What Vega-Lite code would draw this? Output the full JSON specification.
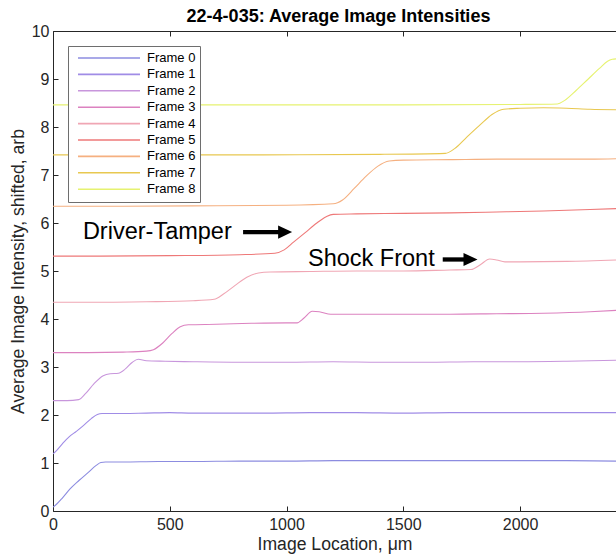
{
  "$schema": "https://vega.github.io/schema/vega-lite/v6.json",
  "width": 563,
  "height": 480,
  "autosize": "none",
  "padding": {"left": 53, "top": 31, "right": 0, "bottom": 43},
  "background": "white",
  "title": {"text": "22-4-035: Average Image Intensities", "font": "Liberation Sans", "fontSize": 18, "fontWeight": "bold", "color": "#000000", "anchor": "middle", "frame": "group", "dx": 4, "offset": -21, "baseline": "bottom"},
  "config": {"view": {"stroke": null}, "font": "Liberation Sans"},
  "datasets": {
    "frames": [
      {"f":"Frame 0","x":0,"y":0.08},{"f":"Frame 0","x":15,"y":0.14},{"f":"Frame 0","x":40,"y":0.27},{"f":"Frame 0","x":73,"y":0.46},{"f":"Frame 0","x":110,"y":0.63},{"f":"Frame 0","x":150,"y":0.8},{"f":"Frame 0","x":185,"y":0.95},{"f":"Frame 0","x":205,"y":1.01},{"f":"Frame 0","x":225,"y":1.02},{"f":"Frame 0","x":300,"y":1.02},{"f":"Frame 0","x":450,"y":1.03},{"f":"Frame 0","x":600,"y":1.03},{"f":"Frame 0","x":800,"y":1.04},{"f":"Frame 0","x":1000,"y":1.04},{"f":"Frame 0","x":1200,"y":1.05},{"f":"Frame 0","x":1400,"y":1.05},{"f":"Frame 0","x":1600,"y":1.05},{"f":"Frame 0","x":1800,"y":1.05},{"f":"Frame 0","x":2000,"y":1.05},{"f":"Frame 0","x":2200,"y":1.05},{"f":"Frame 0","x":2411,"y":1.04},
      {"f":"Frame 1","x":0,"y":1.19},{"f":"Frame 1","x":15,"y":1.26},{"f":"Frame 1","x":40,"y":1.4},{"f":"Frame 1","x":70,"y":1.55},{"f":"Frame 1","x":100,"y":1.66},{"f":"Frame 1","x":130,"y":1.78},{"f":"Frame 1","x":165,"y":1.93},{"f":"Frame 1","x":190,"y":2.01},{"f":"Frame 1","x":210,"y":2.03},{"f":"Frame 1","x":300,"y":2.03},{"f":"Frame 1","x":400,"y":2.04},{"f":"Frame 1","x":500,"y":2.05},{"f":"Frame 1","x":600,"y":2.04},{"f":"Frame 1","x":700,"y":2.04},{"f":"Frame 1","x":900,"y":2.04},{"f":"Frame 1","x":1100,"y":2.05},{"f":"Frame 1","x":1300,"y":2.05},{"f":"Frame 1","x":1500,"y":2.04},{"f":"Frame 1","x":1700,"y":2.05},{"f":"Frame 1","x":1900,"y":2.05},{"f":"Frame 1","x":2100,"y":2.05},{"f":"Frame 1","x":2300,"y":2.05},{"f":"Frame 1","x":2411,"y":2.05},
      {"f":"Frame 2","x":0,"y":2.3},{"f":"Frame 2","x":60,"y":2.3},{"f":"Frame 2","x":110,"y":2.32},{"f":"Frame 2","x":140,"y":2.45},{"f":"Frame 2","x":175,"y":2.65},{"f":"Frame 2","x":215,"y":2.82},{"f":"Frame 2","x":245,"y":2.86},{"f":"Frame 2","x":280,"y":2.87},{"f":"Frame 2","x":310,"y":2.96},{"f":"Frame 2","x":340,"y":3.1},{"f":"Frame 2","x":365,"y":3.16},{"f":"Frame 2","x":400,"y":3.13},{"f":"Frame 2","x":480,"y":3.12},{"f":"Frame 2","x":600,"y":3.11},{"f":"Frame 2","x":800,"y":3.1},{"f":"Frame 2","x":1000,"y":3.1},{"f":"Frame 2","x":1200,"y":3.11},{"f":"Frame 2","x":1400,"y":3.1},{"f":"Frame 2","x":1600,"y":3.1},{"f":"Frame 2","x":1800,"y":3.11},{"f":"Frame 2","x":2000,"y":3.11},{"f":"Frame 2","x":2200,"y":3.12},{"f":"Frame 2","x":2411,"y":3.14},
      {"f":"Frame 3","x":0,"y":3.3},{"f":"Frame 3","x":150,"y":3.3},{"f":"Frame 3","x":300,"y":3.31},{"f":"Frame 3","x":400,"y":3.33},{"f":"Frame 3","x":430,"y":3.36},{"f":"Frame 3","x":470,"y":3.5},{"f":"Frame 3","x":510,"y":3.7},{"f":"Frame 3","x":545,"y":3.84},{"f":"Frame 3","x":580,"y":3.88},{"f":"Frame 3","x":700,"y":3.89},{"f":"Frame 3","x":850,"y":3.91},{"f":"Frame 3","x":1000,"y":3.92},{"f":"Frame 3","x":1045,"y":3.92},{"f":"Frame 3","x":1075,"y":4.02},{"f":"Frame 3","x":1110,"y":4.16},{"f":"Frame 3","x":1140,"y":4.15},{"f":"Frame 3","x":1190,"y":4.1},{"f":"Frame 3","x":1300,"y":4.1},{"f":"Frame 3","x":1500,"y":4.1},{"f":"Frame 3","x":1700,"y":4.1},{"f":"Frame 3","x":1900,"y":4.11},{"f":"Frame 3","x":2100,"y":4.12},{"f":"Frame 3","x":2300,"y":4.15},{"f":"Frame 3","x":2411,"y":4.18},
      {"f":"Frame 4","x":0,"y":4.35},{"f":"Frame 4","x":200,"y":4.35},{"f":"Frame 4","x":400,"y":4.36},{"f":"Frame 4","x":600,"y":4.38},{"f":"Frame 4","x":690,"y":4.41},{"f":"Frame 4","x":730,"y":4.52},{"f":"Frame 4","x":780,"y":4.7},{"f":"Frame 4","x":830,"y":4.87},{"f":"Frame 4","x":880,"y":4.96},{"f":"Frame 4","x":930,"y":4.98},{"f":"Frame 4","x":1100,"y":4.99},{"f":"Frame 4","x":1300,"y":5.0},{"f":"Frame 4","x":1500,"y":5.0},{"f":"Frame 4","x":1700,"y":5.02},{"f":"Frame 4","x":1790,"y":5.03},{"f":"Frame 4","x":1830,"y":5.13},{"f":"Frame 4","x":1870,"y":5.25},{"f":"Frame 4","x":1900,"y":5.23},{"f":"Frame 4","x":1935,"y":5.19},{"f":"Frame 4","x":2000,"y":5.19},{"f":"Frame 4","x":2200,"y":5.2},{"f":"Frame 4","x":2411,"y":5.23},
      {"f":"Frame 5","x":0,"y":5.31},{"f":"Frame 5","x":200,"y":5.31},{"f":"Frame 5","x":500,"y":5.32},{"f":"Frame 5","x":800,"y":5.34},{"f":"Frame 5","x":950,"y":5.37},{"f":"Frame 5","x":990,"y":5.44},{"f":"Frame 5","x":1030,"y":5.6},{"f":"Frame 5","x":1080,"y":5.8},{"f":"Frame 5","x":1130,"y":6.0},{"f":"Frame 5","x":1170,"y":6.13},{"f":"Frame 5","x":1200,"y":6.18},{"f":"Frame 5","x":1300,"y":6.19},{"f":"Frame 5","x":1500,"y":6.2},{"f":"Frame 5","x":1700,"y":6.21},{"f":"Frame 5","x":1900,"y":6.23},{"f":"Frame 5","x":2100,"y":6.25},{"f":"Frame 5","x":2300,"y":6.28},{"f":"Frame 5","x":2411,"y":6.3},
      {"f":"Frame 6","x":0,"y":6.35},{"f":"Frame 6","x":300,"y":6.35},{"f":"Frame 6","x":700,"y":6.36},{"f":"Frame 6","x":1000,"y":6.37},{"f":"Frame 6","x":1200,"y":6.4},{"f":"Frame 6","x":1240,"y":6.48},{"f":"Frame 6","x":1290,"y":6.72},{"f":"Frame 6","x":1340,"y":6.97},{"f":"Frame 6","x":1390,"y":7.18},{"f":"Frame 6","x":1440,"y":7.29},{"f":"Frame 6","x":1500,"y":7.31},{"f":"Frame 6","x":1700,"y":7.32},{"f":"Frame 6","x":1900,"y":7.33},{"f":"Frame 6","x":2100,"y":7.33},{"f":"Frame 6","x":2300,"y":7.33},{"f":"Frame 6","x":2411,"y":7.34},
      {"f":"Frame 7","x":0,"y":7.42},{"f":"Frame 7","x":400,"y":7.42},{"f":"Frame 7","x":900,"y":7.42},{"f":"Frame 7","x":1400,"y":7.43},{"f":"Frame 7","x":1680,"y":7.45},{"f":"Frame 7","x":1720,"y":7.55},{"f":"Frame 7","x":1770,"y":7.78},{"f":"Frame 7","x":1830,"y":8.05},{"f":"Frame 7","x":1880,"y":8.26},{"f":"Frame 7","x":1930,"y":8.37},{"f":"Frame 7","x":2000,"y":8.39},{"f":"Frame 7","x":2100,"y":8.4},{"f":"Frame 7","x":2200,"y":8.39},{"f":"Frame 7","x":2300,"y":8.37},{"f":"Frame 7","x":2411,"y":8.36},
      {"f":"Frame 8","x":0,"y":8.46},{"f":"Frame 8","x":500,"y":8.46},{"f":"Frame 8","x":1000,"y":8.46},{"f":"Frame 8","x":1500,"y":8.46},{"f":"Frame 8","x":2000,"y":8.47},{"f":"Frame 8","x":2160,"y":8.48},{"f":"Frame 8","x":2190,"y":8.55},{"f":"Frame 8","x":2240,"y":8.76},{"f":"Frame 8","x":2290,"y":8.99},{"f":"Frame 8","x":2340,"y":9.22},{"f":"Frame 8","x":2375,"y":9.37},{"f":"Frame 8","x":2395,"y":9.41},{"f":"Frame 8","x":2411,"y":9.42}
    ],
    "notes": [
      {"t": "Driver-Tamper", "x": 128, "y": 5.82},
      {"t": "Shock Front", "x": 1092, "y": 5.25}
    ],
    "arrows": [
      {"x": 814, "x2": 990, "hx": 994, "y": 5.81},
      {"x": 1669, "x2": 1785, "hx": 1788, "y": 5.24}
    ]
  },
  "layer": [
    {
      "data": {"name": "frames"},
      "mark": {"type": "line", "strokeWidth": 1.1, "interpolate": "monotone", "clip": true},
      "encoding": {
        "x": {"field": "x", "type": "quantitative", "scale": {"domain": [0, 2411], "nice": false, "zero": false},
          "axis": {"orient": "bottom", "values": [0, 500, 1000, 1500, 2000], "format": "d", "tickSize": -5, "labelPadding": 10, "labelFlush": false, "labelFontSize": 16, "labelFont": "Liberation Sans", "labelColor": "#262626", "domainColor": "#262626", "tickColor": "#262626", "grid": false, "title": "Image Location, μm", "titleFontSize": 17.6, "titleFontWeight": "normal", "titleFont": "Liberation Sans", "titleColor": "#262626", "titlePadding": 3}},
        "y": {"field": "y", "type": "quantitative", "scale": {"domain": [0, 10], "nice": false, "zero": false},
          "axis": {"values": [0,1,2,3,4,5,6,7,8,9,10], "format": "d", "tickSize": -5, "labelPadding": 9, "labelFontSize": 16, "labelFont": "Liberation Sans", "labelColor": "#262626", "domainColor": "#262626", "tickColor": "#262626", "grid": false, "labelOverlap": false, "title": "Average Image Intensity, shifted, arb", "titleFontSize": 17.6, "titleFontWeight": "normal", "titleFont": "Liberation Sans", "titleColor": "#262626", "titlePadding": 4}},
        "color": {"field": "f", "type": "nominal",
          "scale": {"domain": ["Frame 0","Frame 1","Frame 2","Frame 3","Frame 4","Frame 5","Frame 6","Frame 7","Frame 8"],
                    "range": ["#8c8ce0","#a08ce6","#c896dc","#dc82c0","#f0a6b4","#ee7878","#f5b080","#e8c850","#e6f270"]},
          "legend": {"orient": "none", "legendX": 15, "legendY": 15, "title": null, "symbolType": "stroke", "symbolSize": 3844, "symbolStrokeWidth": 1.6, "clipHeight": 16, "rowPadding": 0.4, "padding": 4, "symbolOffset": 5, "labelOffset": 6, "labelFontSize": 13, "labelFont": "Liberation Sans", "labelColor": "#000000", "strokeColor": "#6e6e6e", "fillColor": "white", "cornerRadius": 0}}
      }
    },
    {
      "data": {"name": "arrows"},
      "mark": {"type": "rule", "strokeWidth": 4.3, "color": "black"},
      "encoding": {
        "x": {"field": "x", "type": "quantitative", "axis": null},
        "x2": {"field": "x2"},
        "y": {"field": "y", "type": "quantitative"}
      }
    },
    {
      "data": {"name": "arrows"},
      "mark": {"type": "point", "shape": "M-1,-0.93L1,0L-1,0.93Z", "size": 196, "filled": true, "color": "black", "opacity": 1},
      "encoding": {
        "x": {"field": "hx", "type": "quantitative", "axis": null},
        "y": {"field": "y", "type": "quantitative"}
      }
    },
    {
      "data": {"name": "notes"},
      "mark": {"type": "text", "align": "left", "baseline": "middle", "fontSize": 23.5, "font": "Liberation Sans", "color": "black"},
      "encoding": {
        "x": {"field": "x", "type": "quantitative",
          "axis": {"orient": "top", "values": [0, 500, 1000, 1500, 2000], "tickSize": -5, "labels": false, "title": null, "domainColor": "#262626", "tickColor": "#262626", "grid": false}},
        "y": {"field": "y", "type": "quantitative"},
        "text": {"field": "t"}
      }
    }
  ],
  "resolve": {"axis": {"x": "independent"}}
}
